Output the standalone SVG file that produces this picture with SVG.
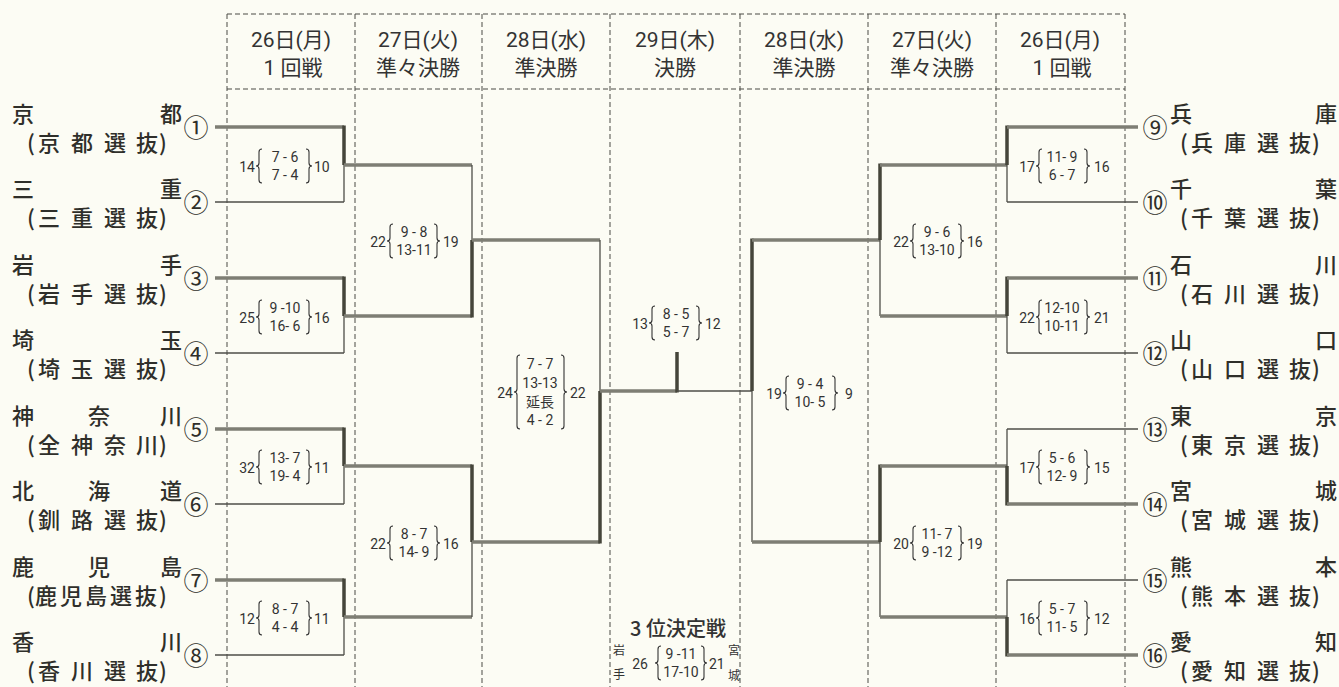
<svg xmlns="http://www.w3.org/2000/svg" width="1339" height="687" viewBox="0 0 1339 687">
<style>
.bg{fill:#fcfcf4}
.dash{stroke:#4a4a44;stroke-width:1;stroke-dasharray:5 3;fill:none}
.thk{stroke:#7e7e74;stroke-width:3.5;fill:none}
.thd{stroke:#45453a;stroke-width:3.5;fill:none}
.thn{stroke:#4e4e48;stroke-width:1.3;fill:none}
.nm{font-family:"Noto Sans CJK JP","Noto Sans CJK SC",sans-serif;font-size:22px;font-weight:500;fill:#2f2f2a}
.cn{font-family:"Noto Sans CJK JP","Noto Sans CJK SC",sans-serif;font-size:25px;fill:#2f2f2a;text-anchor:middle}
.hd{font-family:"Roboto","Noto Sans CJK JP",sans-serif;font-size:21px;fill:#333;text-anchor:middle}
.sc{font-family:"Roboto","Noto Sans CJK JP",sans-serif;font-size:14px;fill:#333;text-anchor:middle}
.sl{font-family:"Roboto","Noto Sans CJK JP",sans-serif;font-size:14px;fill:#333;text-anchor:end}
.sr{font-family:"Roboto","Noto Sans CJK JP",sans-serif;font-size:14px;fill:#333;text-anchor:start}
.br{stroke:#333;stroke-width:1.1;fill:none}
.t3{font-family:"Noto Sans CJK JP",sans-serif;font-size:20px;font-weight:500;fill:#333;text-anchor:middle}
.tk{font-family:"Noto Sans CJK JP",sans-serif;font-size:12px;fill:#333;text-anchor:middle}
</style>
<rect class="bg" x="0" y="0" width="1339" height="687"/>

<g id="grid">
<line class="dash" x1="227" y1="14" x2="1125" y2="14"/>
<line class="dash" x1="227" y1="89" x2="1125" y2="89"/>
<line class="dash" x1="227" y1="14" x2="227" y2="687"/>
<line class="dash" x1="355" y1="14" x2="355" y2="687"/>
<line class="dash" x1="482" y1="14" x2="482" y2="687"/>
<line class="dash" x1="610" y1="14" x2="610" y2="687"/>
<line class="dash" x1="740" y1="14" x2="740" y2="687"/>
<line class="dash" x1="868" y1="14" x2="868" y2="687"/>
<line class="dash" x1="996" y1="14" x2="996" y2="687"/>
<line class="dash" x1="1125" y1="14" x2="1125" y2="687"/>
</g>

<g id="headers">
<text class="hd" x="291" y="47">26日(月)</text><text class="hd" x="293" y="75">1 回戦</text>
<text class="hd" x="418" y="47">27日(火)</text><text class="hd" x="418" y="75">準々決勝</text>
<text class="hd" x="546" y="47">28日(水)</text><text class="hd" x="546" y="75">準決勝</text>
<text class="hd" x="675" y="47">29日(木)</text><text class="hd" x="675" y="75">決勝</text>
<text class="hd" x="804" y="47">28日(水)</text><text class="hd" x="804" y="75">準決勝</text>
<text class="hd" x="932" y="47">27日(火)</text><text class="hd" x="932" y="75">準々決勝</text>
<text class="hd" x="1060" y="47">26日(月)</text><text class="hd" x="1062" y="75">1 回戦</text>
</g>

<g id="connectors">
<line class="thk" x1="215" y1="127" x2="344" y2="127"/>
<line class="thn" x1="215" y1="202" x2="344" y2="202"/>
<line class="thk" x1="215" y1="278" x2="344" y2="278"/>
<line class="thn" x1="215" y1="353" x2="344" y2="353"/>
<line class="thk" x1="215" y1="429" x2="344" y2="429"/>
<line class="thn" x1="215" y1="504" x2="344" y2="504"/>
<line class="thk" x1="215" y1="580" x2="344" y2="580"/>
<line class="thn" x1="215" y1="655" x2="344" y2="655"/>
<line class="thd" x1="344" y1="125.5" x2="344" y2="165"/><line class="thn" x1="344" y1="165" x2="344" y2="202"/>
<line class="thd" x1="344" y1="276.5" x2="344" y2="316"/><line class="thn" x1="344" y1="316" x2="344" y2="353"/>
<line class="thd" x1="344" y1="427.5" x2="344" y2="466"/><line class="thn" x1="344" y1="466" x2="344" y2="504"/>
<line class="thd" x1="344" y1="578.5" x2="344" y2="617"/><line class="thn" x1="344" y1="617" x2="344" y2="655"/>
<line class="thk" x1="344" y1="165" x2="472" y2="165"/>
<line class="thk" x1="344" y1="316" x2="472" y2="316"/>
<line class="thk" x1="344" y1="466" x2="472" y2="466"/>
<line class="thk" x1="344" y1="617" x2="472" y2="617"/>
<line class="thn" x1="472" y1="165" x2="472" y2="240"/><line class="thd" x1="472" y1="240" x2="472" y2="317.5"/>
<line class="thd" x1="472" y1="464.5" x2="472" y2="542"/><line class="thn" x1="472" y1="542" x2="472" y2="617"/>
<line class="thk" x1="472" y1="240" x2="600" y2="240"/>
<line class="thk" x1="472" y1="542" x2="600" y2="542"/>
<line class="thn" x1="600" y1="240" x2="600" y2="391"/><line class="thd" x1="600" y1="391" x2="600" y2="543.5"/>
<line class="thk" x1="600" y1="391" x2="677" y2="391"/>
<line class="thd" x1="677" y1="352" x2="677" y2="392.5"/>
<line class="thn" x1="677" y1="391" x2="752" y2="391"/>
<line class="thd" x1="752" y1="238.5" x2="752" y2="391"/><line class="thn" x1="752" y1="391" x2="752" y2="542"/>
<line class="thk" x1="752" y1="240" x2="880" y2="240"/>
<line class="thk" x1="752" y1="542" x2="880" y2="542"/>
<line class="thd" x1="880" y1="163.5" x2="880" y2="240"/><line class="thn" x1="880" y1="240" x2="880" y2="316"/>
<line class="thd" x1="880" y1="464.5" x2="880" y2="542"/><line class="thn" x1="880" y1="542" x2="880" y2="617"/>
<line class="thk" x1="880" y1="165" x2="1007" y2="165"/>
<line class="thk" x1="880" y1="316" x2="1007" y2="316"/>
<line class="thk" x1="880" y1="466" x2="1007" y2="466"/>
<line class="thk" x1="880" y1="617" x2="1007" y2="617"/>
<line class="thd" x1="1007" y1="125.5" x2="1007" y2="165"/><line class="thn" x1="1007" y1="165" x2="1007" y2="202"/>
<line class="thd" x1="1007" y1="276.5" x2="1007" y2="316"/><line class="thn" x1="1007" y1="316" x2="1007" y2="353"/>
<line class="thn" x1="1007" y1="429" x2="1007" y2="466"/><line class="thd" x1="1007" y1="466" x2="1007" y2="505.5"/>
<line class="thn" x1="1007" y1="580" x2="1007" y2="617"/><line class="thd" x1="1007" y1="617" x2="1007" y2="656.5"/>
<line class="thk" x1="1007" y1="127" x2="1138" y2="127"/>
<line class="thn" x1="1007" y1="202" x2="1138" y2="202"/>
<line class="thk" x1="1007" y1="278" x2="1138" y2="278"/>
<line class="thn" x1="1007" y1="353" x2="1138" y2="353"/>
<line class="thn" x1="1007" y1="429" x2="1138" y2="429"/>
<line class="thk" x1="1007" y1="504" x2="1138" y2="504"/>
<line class="thn" x1="1007" y1="580" x2="1138" y2="580"/>
<line class="thk" x1="1007" y1="655" x2="1138" y2="655"/>
</g>

<g id="team1"><text class="nm" x="12 160" y="122">京都</text><text class="nm" x="27 38 71 104 136 159" y="151">(京都選抜)</text><text class="cn" x="196" y="137">①</text></g>
<g id="team2"><text class="nm" x="12 160" y="197">三重</text><text class="nm" x="27 38 71 104 136 159" y="226">(三重選抜)</text><text class="cn" x="196" y="212">②</text></g>
<g id="team3"><text class="nm" x="12 160" y="273">岩手</text><text class="nm" x="27 38 71 104 136 159" y="302">(岩手選抜)</text><text class="cn" x="196" y="288">③</text></g>
<g id="team4"><text class="nm" x="12 160" y="348">埼玉</text><text class="nm" x="27 38 71 104 136 159" y="377">(埼玉選抜)</text><text class="cn" x="196" y="363">④</text></g>
<g id="team5"><text class="nm" x="12 88 160" y="424">神奈川</text><text class="nm" x="27 38 71 104 136 159" y="453">(全神奈川)</text><text class="cn" x="196" y="439">⑤</text></g>
<g id="team6"><text class="nm" x="12 88 160" y="499">北海道</text><text class="nm" x="27 38 71 104 136 159" y="528">(釧路選抜)</text><text class="cn" x="196" y="514">⑥</text></g>
<g id="team7"><text class="nm" x="12 88 160" y="575">鹿児島</text><text class="nm" x="27 35 60 85 110 135 159" y="604">(鹿児島選抜)</text><text class="cn" x="196" y="590">⑦</text></g>
<g id="team8"><text class="nm" x="12 160" y="650">香川</text><text class="nm" x="27 38 71 104 136 159" y="679">(香川選抜)</text><text class="cn" x="196" y="665">⑧</text></g>

<g id="team9"><text class="nm" x="1170 1315" y="122">兵庫</text><text class="nm" x="1180 1191 1224 1257 1289 1312" y="151">(兵庫選抜)</text><text class="cn" x="1155" y="137">⑨</text></g>
<g id="team10"><text class="nm" x="1170 1315" y="197">千葉</text><text class="nm" x="1180 1191 1224 1257 1289 1312" y="226">(千葉選抜)</text><text class="cn" x="1155" y="212">⑩</text></g>
<g id="team11"><text class="nm" x="1170 1315" y="273">石川</text><text class="nm" x="1180 1191 1224 1257 1289 1312" y="302">(石川選抜)</text><text class="cn" x="1155" y="288">⑪</text></g>
<g id="team12"><text class="nm" x="1170 1315" y="348">山口</text><text class="nm" x="1180 1191 1224 1257 1289 1312" y="377">(山口選抜)</text><text class="cn" x="1155" y="363">⑫</text></g>
<g id="team13"><text class="nm" x="1170 1315" y="424">東京</text><text class="nm" x="1180 1191 1224 1257 1289 1312" y="453">(東京選抜)</text><text class="cn" x="1155" y="439">⑬</text></g>
<g id="team14"><text class="nm" x="1170 1315" y="499">宮城</text><text class="nm" x="1180 1191 1224 1257 1289 1312" y="528">(宮城選抜)</text><text class="cn" x="1155" y="514">⑭</text></g>
<g id="team15"><text class="nm" x="1170 1315" y="575">熊本</text><text class="nm" x="1180 1191 1224 1257 1289 1312" y="604">(熊本選抜)</text><text class="cn" x="1155" y="590">⑮</text></g>
<g id="team16"><text class="nm" x="1170 1315" y="650">愛知</text><text class="nm" x="1180 1191 1224 1257 1289 1312" y="679">(愛知選抜)</text><text class="cn" x="1155" y="665">⑯</text></g>

<g id="s1"><text class="sl" x="255" y="172">14</text><path class="br" d="M262 149 Q259 149 259 152 L259 163 Q259 166 256 166 Q259 166 259 169 L259 180 Q259 183 262 183"/><text class="sc" x="285" y="162">7 - 6</text><text class="sc" x="285" y="180">7 - 4</text><path class="br" d="M306 149 Q309 149 309 152 L309 163 Q309 166 312 166 Q309 166 309 169 L309 180 Q309 183 306 183"/><text class="sr" x="314" y="172">10</text></g>
<g id="s2"><text class="sl" x="255" y="323">25</text><path class="br" d="M262 300 Q259 300 259 303 L259 314 Q259 317 256 317 Q259 317 259 320 L259 331 Q259 334 262 334"/><text class="sc" x="285" y="313">9 -10</text><text class="sc" x="285" y="331">16- 6</text><path class="br" d="M306 300 Q309 300 309 303 L309 314 Q309 317 312 317 Q309 317 309 320 L309 331 Q309 334 306 334"/><text class="sr" x="314" y="323">16</text></g>
<g id="s3"><text class="sl" x="255" y="473">32</text><path class="br" d="M262 450 Q259 450 259 453 L259 464 Q259 467 256 467 Q259 467 259 470 L259 481 Q259 484 262 484"/><text class="sc" x="285" y="463">13- 7</text><text class="sc" x="285" y="481">19- 4</text><path class="br" d="M306 450 Q309 450 309 453 L309 464 Q309 467 312 467 Q309 467 309 470 L309 481 Q309 484 306 484"/><text class="sr" x="314" y="473">11</text></g>
<g id="s4"><text class="sl" x="255" y="624">12</text><path class="br" d="M262 601 Q259 601 259 604 L259 615 Q259 618 256 618 Q259 618 259 621 L259 632 Q259 635 262 635"/><text class="sc" x="285" y="614">8 - 7</text><text class="sc" x="285" y="632">4 - 4</text><path class="br" d="M306 601 Q309 601 309 604 L309 615 Q309 618 312 618 Q309 618 309 621 L309 632 Q309 635 306 635"/><text class="sr" x="314" y="624">11</text></g>

<g id="s5"><text class="sl" x="386" y="247">22</text><path class="br" d="M393 224 Q390 224 390 227 L390 238 Q390 241 387 241 Q390 241 390 244 L390 255 Q390 258 393 258"/><text class="sc" x="414" y="237">9 - 8</text><text class="sc" x="414" y="255">13-11</text><path class="br" d="M434 224 Q437 224 437 227 L437 238 Q437 241 440 241 Q437 241 437 244 L437 255 Q437 258 434 258"/><text class="sr" x="443" y="247">19</text></g>
<g id="s6"><text class="sl" x="386" y="549">22</text><path class="br" d="M393 526 Q390 526 390 529 L390 540 Q390 543 387 543 Q390 543 390 546 L390 557 Q390 560 393 560"/><text class="sc" x="414" y="539">8 - 7</text><text class="sc" x="414" y="557">14- 9</text><path class="br" d="M434 526 Q437 526 437 529 L437 540 Q437 543 440 543 Q437 543 437 546 L437 557 Q437 560 434 560"/><text class="sr" x="443" y="549">16</text></g>

<g id="s7"><text class="sl" x="513" y="398">24</text><path class="br" d="M520 355 Q517 355 517 358 L517 389 Q517 392 514 392 Q517 392 517 395 L517 426 Q517 429 520 429"/><text class="sc" x="540" y="369">7 - 7</text><text class="sc" x="540" y="388">13-13</text><text class="sc" x="540" y="407">延長</text><text class="sc" x="540" y="425">4 - 2</text><path class="br" d="M561 355 Q564 355 564 358 L564 389 Q564 392 567 392 Q564 392 564 395 L564 426 Q564 429 561 429"/><text class="sr" x="570" y="398">22</text></g>

<g id="s8"><text class="sl" x="648" y="329">13</text><path class="br" d="M655 306 Q652 306 652 309 L652 320 Q652 323 649 323 Q652 323 652 326 L652 337 Q652 340 655 340"/><text class="sc" x="676" y="319">8 - 5</text><text class="sc" x="676" y="337">5 - 7</text><path class="br" d="M696 306 Q699 306 699 309 L699 320 Q699 323 702 323 Q699 323 699 326 L699 337 Q699 340 696 340"/><text class="sr" x="705" y="329">12</text></g>

<g id="s9"><text class="sl" x="782" y="399">19</text><path class="br" d="M789 376 Q786 376 786 379 L786 390 Q786 393 783 393 Q786 393 786 396 L786 407 Q786 410 789 410"/><text class="sc" x="810" y="389">9 - 4</text><text class="sc" x="810" y="407">10- 5</text><path class="br" d="M832 376 Q835 376 835 379 L835 390 Q835 393 838 393 Q835 393 835 396 L835 407 Q835 410 832 410"/><text class="sr" x="845" y="399">9</text></g>

<g id="s10"><text class="sl" x="909" y="247">22</text><path class="br" d="M916 224 Q913 224 913 227 L913 238 Q913 241 910 241 Q913 241 913 244 L913 255 Q913 258 916 258"/><text class="sc" x="937" y="237">9 - 6</text><text class="sc" x="937" y="255">13-10</text><path class="br" d="M958 224 Q961 224 961 227 L961 238 Q961 241 964 241 Q961 241 961 244 L961 255 Q961 258 958 258"/><text class="sr" x="967" y="247">16</text></g>
<g id="s11"><text class="sl" x="909" y="549">20</text><path class="br" d="M916 526 Q913 526 913 529 L913 540 Q913 543 910 543 Q913 543 913 546 L913 557 Q913 560 916 560"/><text class="sc" x="937" y="539">11- 7</text><text class="sc" x="937" y="557">9 -12</text><path class="br" d="M958 526 Q961 526 961 529 L961 540 Q961 543 964 543 Q961 543 961 546 L961 557 Q961 560 958 560"/><text class="sr" x="967" y="549">19</text></g>

<g id="s12"><text class="sl" x="1035" y="172">17</text><path class="br" d="M1042 149 Q1039 149 1039 152 L1039 163 Q1039 166 1036 166 Q1039 166 1039 169 L1039 180 Q1039 183 1042 183"/><text class="sc" x="1062" y="162">11- 9</text><text class="sc" x="1062" y="180">6 - 7</text><path class="br" d="M1084 149 Q1087 149 1087 152 L1087 163 Q1087 166 1090 166 Q1087 166 1087 169 L1087 180 Q1087 183 1084 183"/><text class="sr" x="1094" y="172">16</text></g>
<g id="s13"><text class="sl" x="1035" y="323">22</text><path class="br" d="M1042 300 Q1039 300 1039 303 L1039 314 Q1039 317 1036 317 Q1039 317 1039 320 L1039 331 Q1039 334 1042 334"/><text class="sc" x="1062" y="313">12-10</text><text class="sc" x="1062" y="331">10-11</text><path class="br" d="M1084 300 Q1087 300 1087 303 L1087 314 Q1087 317 1090 317 Q1087 317 1087 320 L1087 331 Q1087 334 1084 334"/><text class="sr" x="1094" y="323">21</text></g>
<g id="s14"><text class="sl" x="1035" y="473">17</text><path class="br" d="M1042 450 Q1039 450 1039 453 L1039 464 Q1039 467 1036 467 Q1039 467 1039 470 L1039 481 Q1039 484 1042 484"/><text class="sc" x="1062" y="463">5 - 6</text><text class="sc" x="1062" y="481">12- 9</text><path class="br" d="M1084 450 Q1087 450 1087 453 L1087 464 Q1087 467 1090 467 Q1087 467 1087 470 L1087 481 Q1087 484 1084 484"/><text class="sr" x="1094" y="473">15</text></g>
<g id="s15"><text class="sl" x="1035" y="624">16</text><path class="br" d="M1042 601 Q1039 601 1039 604 L1039 615 Q1039 618 1036 618 Q1039 618 1039 621 L1039 632 Q1039 635 1042 635"/><text class="sc" x="1062" y="614">5 - 7</text><text class="sc" x="1062" y="632">11- 5</text><path class="br" d="M1084 601 Q1087 601 1087 604 L1087 615 Q1087 618 1090 618 Q1087 618 1087 621 L1087 632 Q1087 635 1084 635"/><text class="sr" x="1094" y="624">12</text></g>

<g id="third"><text class="t3" x="678" y="636">3 位決定戦</text>
<text class="tk" x="619" y="655">岩</text><text class="tk" x="619" y="679">手</text>
<text class="sl" x="648" y="669">26</text><path class="br" d="M661 646 Q658 646 658 649 L658 660 Q658 663 655 663 Q658 663 658 666 L658 677 Q658 680 661 680"/><text class="sc" x="681" y="659">9 -11</text><text class="sc" x="681" y="677">17-10</text><path class="br" d="M701 646 Q704 646 704 649 L704 660 Q704 663 707 663 Q704 663 704 666 L704 677 Q704 680 701 680"/><text class="sr" x="709" y="669">21</text>
<text class="tk" x="734" y="655">宮</text><text class="tk" x="734" y="680">城</text></g>
</svg>
